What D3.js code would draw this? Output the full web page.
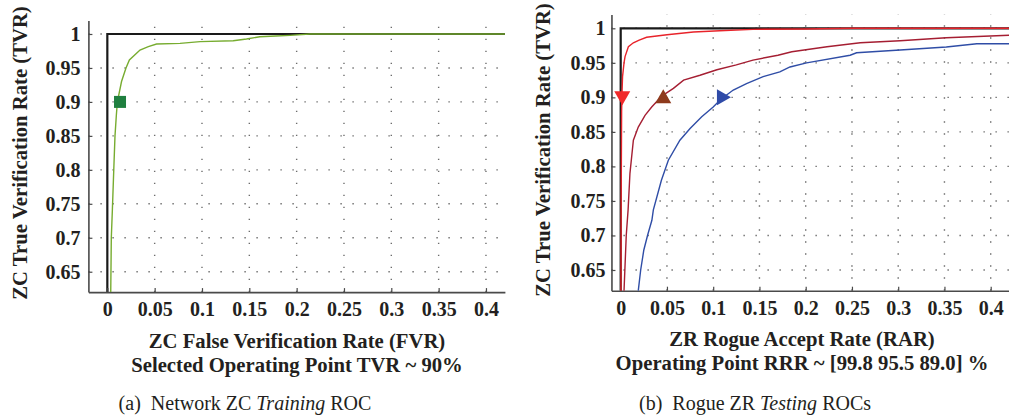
<!DOCTYPE html>
<html>
<head>
<meta charset="utf-8">
<script src="https://cdn.jsdelivr.net/npm/d3@7"></script>
<style>
  html, body { margin: 0; padding: 0; background: #fff; }
  svg { display: block; }
  text { font-family: "Liberation Serif", "Times New Roman", serif; fill: #231f20; }
</style>
</head>
<body>
<svg id="chart" width="1009" height="419"></svg>
<script>
// ---------- Data ----------
const xTicks = [0, 0.05, 0.1, 0.15, 0.2, 0.25, 0.3, 0.35, 0.4];
const xTickLabels = ["0", "0.05", "0.1", "0.15", "0.2", "0.25", "0.3", "0.35", "0.4"];
const yTicks = [0.65, 0.7, 0.75, 0.8, 0.85, 0.9, 0.95, 1];
const yTickLabels = ["0.65", "0.7", "0.75", "0.8", "0.85", "0.9", "0.95", "1"];

// Panel (a): training ROC
const trainFVR = [0.0036, 0.0042, 0.0053, 0.0068, 0.0081, 0.0095, 0.0106, 0.015, 0.0197, 0.0233, 0.0345, 0.0433, 0.052, 0.0768, 0.098, 0.133, 0.147, 0.161, 0.178, 0.193, 0.214, 0.42];
const trainTVR = [0.62, 0.70, 0.74, 0.80, 0.85, 0.88, 0.90, 0.93, 0.95, 0.9617, 0.9764, 0.9813, 0.9853, 0.9862, 0.9887, 0.990, 0.9926, 0.996, 0.997, 0.998, 1.0, 1.0];
const trainOpPoint = [0.0134, 0.9];

// Panel (b): rogue testing ROCs
const rogueRedRAR = [0.0003, 0.0005, 0.001, 0.0015, 0.002, 0.0036, 0.0047, 0.0083, 0.0137, 0.02, 0.028, 0.05, 0.0786, 0.107, 0.143, 0.2, 0.25, 0.42];
const rogueRedTVR = [0.62, 0.75, 0.88, 0.91, 0.93, 0.95, 0.959, 0.9733, 0.979, 0.983, 0.987, 0.9907, 0.9946, 0.9965, 0.9985, 0.999, 1.0, 1.0];
const rogueMaroonRAR = [0.0036, 0.006, 0.008, 0.010, 0.0137, 0.019, 0.0263, 0.0335, 0.041, 0.048, 0.057, 0.068, 0.0857, 0.104, 0.125, 0.143, 0.17, 0.185, 0.223, 0.259, 0.302, 0.352, 0.42];
const rogueMaroonTVR = [0.62, 0.70, 0.737, 0.79, 0.838, 0.857, 0.874, 0.886, 0.897, 0.905, 0.913, 0.925, 0.932, 0.94, 0.947, 0.954, 0.961, 0.966, 0.9733, 0.979, 0.982, 0.9864, 0.990];
const rogueBlueRAR = [0.019, 0.0216, 0.025, 0.029, 0.0337, 0.0353, 0.044, 0.0515, 0.064, 0.075, 0.0876, 0.1, 0.108, 0.1217, 0.136, 0.154, 0.172, 0.183, 0.201, 0.248, 0.255, 0.302, 0.352, 0.385, 0.42];
const rogueBlueTVR = [0.62, 0.65, 0.679, 0.70, 0.722, 0.737, 0.78, 0.809, 0.838, 0.855, 0.872, 0.886, 0.897, 0.9106, 0.92, 0.93, 0.937, 0.944, 0.95, 0.961, 0.9646, 0.9686, 0.973, 0.9777, 0.9777];
const rogueOpRAR = [0.0017, 0.046, 0.1116];
const rogueOpTVR = [0.9, 0.9, 0.9];

// ---------- Drawing ----------
const svg = d3.select("#chart");

function panel(cfg) {
  const g = svg.append("g");
  const x = d3.scaleLinear().domain([cfg.xmin, 0.42]).range(cfg.xr);
  const y = d3.scaleLinear().domain([0.62, 1.02]).range(cfg.yr);

  // dotted grid
  const grid = g.append("g").attr("stroke", "#6d6d6d").attr("stroke-width", 1.4)
    .attr("stroke-dasharray", "1.4 10.6").attr("fill", "none");
  grid.selectAll("line.h").data(yTicks).join("line").attr("class", "h")
    .attr("x1", x(cfg.xmin)).attr("x2", x(0.42)).attr("y1", d => y(d)).attr("y2", d => y(d));
  grid.selectAll("line.v").data(xTicks.slice(1)).join("line").attr("class", "v")
    .attr("x1", d => x(d)).attr("x2", d => x(d)).attr("y1", y(0.62)).attr("y2", y(1.02));

  // perfect ROC reference (black)
  g.append("path")
    .attr("d", d3.line()([[x(0), y(0.62)], [x(0), y(1)], [x(0.42), y(1)]]))
    .attr("fill", "none").attr("stroke", "#1a1a1a").attr("stroke-width", 2.2);

  // axes
  const xa = d3.axisBottom(x).tickValues(xTicks).tickFormat((d, i) => xTickLabels[i])
    .tickSizeInner(-4).tickSizeOuter(0).tickPadding(cfg.xpad);
  const ya = d3.axisLeft(y).tickValues(yTicks).tickFormat((d, i) => yTickLabels[i])
    .tickSizeInner(-4).tickSizeOuter(0).tickPadding(cfg.ypad);
  const gx = g.append("g").attr("transform", `translate(0,${y(0.62)})`).call(xa);
  const gy = g.append("g").attr("transform", `translate(${x(cfg.xmin)},0)`).call(ya);
  [gx, gy].forEach(a => {
    a.select(".domain").attr("stroke", "#4a4a4a").attr("stroke-width", 1.6);
    a.selectAll(".tick line").attr("stroke", "#4a4a4a").attr("stroke-width", 1.2);
    a.selectAll(".tick text").attr("font-weight", "bold")
      .attr("font-size", 20).attr("fill", "#231f20");
  });

  // series
  cfg.series.forEach(s => {
    g.append("path")
      .datum(s.xs.map((v, i) => [v, s.ys[i]]))
      .attr("d", d3.line().x(d => x(d[0])).y(d => y(d[1])))
      .attr("fill", "none").attr("stroke", s.color).attr("stroke-width", 1.4);
  });

  // markers
  cfg.markers.forEach(m => {
    const cx = x(m.x), cy = y(m.y);
    let pts;
    const w = 16, h = 14;
    if (m.shape === "square") {
      g.append("rect").attr("x", cx - 6).attr("y", cy - 6).attr("width", 12).attr("height", 12)
        .attr("fill", m.color);
      return;
    } else if (m.shape === "down") {
      pts = [[cx - w/2, cy - h/2 + 1], [cx + w/2, cy - h/2 + 1], [cx, cy + h/2 + 1]];
    } else if (m.shape === "up") {
      pts = [[cx - w/2, cy + h/2 - 1], [cx + w/2, cy + h/2 - 1], [cx, cy - h/2 - 1]];
    } else {
      pts = [[cx - h/2, cy - w/2], [cx - h/2, cy + w/2], [cx + h/2, cy]];
    }
    g.append("path").attr("d", d3.line()(pts) + "Z").attr("fill", m.color);
  });

  // titles
  const cxm = cfg.titleX;
  const t = g.append("g").attr("font-weight", "bold").attr("font-size", cfg.titleSize).attr("text-anchor", "middle");
  t.append("text").attr("x", cxm).attr("y", cfg.t1y).text(cfg.xTitle1);
  t.append("text").attr("x", cxm).attr("y", cfg.t2y).text(cfg.xTitle2);
  t.append("text").attr("transform", `translate(${cfg.yTitleX},${cfg.yTitleY}) rotate(-90)`).text("ZC True Verification Rate (TVR)");

  const cap = g.append("text").attr("x", cfg.capX).attr("y", 410).attr("text-anchor", "middle")
    .attr("font-size", 20).style("white-space", "pre");
  cap.append("tspan").text(cfg.cap[0]);
  cap.append("tspan").attr("font-style", "italic").text(cfg.cap[1]);
  cap.append("tspan").text(cfg.cap[2]);
}

panel({
  xmin: -0.02, xr: [88.4, 504.9], yr: [292.1, 20.4], xpad: 10, ypad: 8,
  series: [{ xs: trainFVR, ys: trainTVR, color: "#77ac30" }],
  markers: [{ x: trainOpPoint[0], y: trainOpPoint[1], shape: "square", color: "#1f7f3f" }],
  titleX: 297, t1y: 348, t2y: 372, titleSize: 20.7,
  xTitle1: "ZC False Verification Rate (FVR)",
  xTitle2: "Selected Operating Point TVR ~ 90%",
  yTitleX: 27, yTitleY: 153,
  capX: 245, cap: ["(a)  Network ZC ", "Training", " ROC"]
});

panel({
  xmin: -0.01, xr: [611.45, 1009.2], yr: [290.7, 14.5], xpad: 10, ypad: 6,
  series: [
    { xs: rogueRedRAR, ys: rogueRedTVR, color: "#e8232a" },
    { xs: rogueMaroonRAR, ys: rogueMaroonTVR, color: "#a51e32" },
    { xs: rogueBlueRAR, ys: rogueBlueTVR, color: "#2f4da6" }
  ],
  markers: [
    { x: rogueOpRAR[0], y: rogueOpTVR[0], shape: "down", color: "#f02a2a" },
    { x: rogueOpRAR[1], y: rogueOpTVR[1], shape: "up", color: "#8e3a1d" },
    { x: rogueOpRAR[2], y: rogueOpTVR[2], shape: "right", color: "#2f4ba8" }
  ],
  titleX: 802, t1y: 346, t2y: 370, titleSize: 20.7,
  xTitle1: "ZR Rogue Accept Rate (RAR)",
  xTitle2: "Operating Point RRR ~ [99.8 95.5 89.0] %",
  yTitleX: 550, yTitleY: 150,
  capX: 755, cap: ["(b)  Rogue ZR ", "Testing", " ROCs"]
});
</script>
</body>
</html>
